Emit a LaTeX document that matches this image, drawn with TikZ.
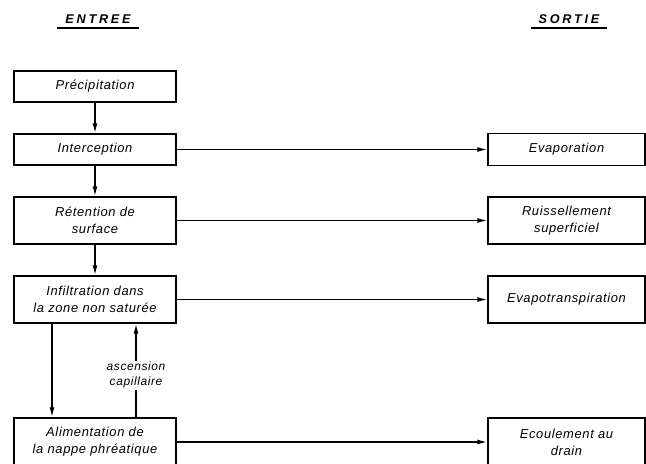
\documentclass[tikz,border=0pt]{standalone}
\usepackage{fontspec}
\setmainfont{Liberation Sans}
\newfontfamily\lettrage[LetterSpace=5]{Liberation Sans}
\newfontfamily\titre[LetterSpace=22]{Liberation Sans}
\usetikzlibrary{arrows.meta}

\begin{document}
\begin{tikzpicture}[
    boite/.style={draw, line width=1.2pt, minimum height=0.775cm, align=center,
      font=\lettrage\itshape\fontsize{9.2}{12}\selectfont},
    gauchebox/.style={boite, minimum width=4.05cm},
    droitebox/.style={boite, minimum width=3.925cm},
    fleche/.style={-{Latex[length=7pt,width=3.6pt]}, line width=1pt},
    entete/.style={font=\titre\bfseries\itshape\fontsize{9}{10}\selectfont,
      inner xsep=5.5pt, inner ysep=3pt}]
    \useasboundingbox (0,0) rectangle (16.15,11.575);

    % 标题
    \node[entete] (entree) at (2.45,11.1) {ENTREE};
    \draw[line width=1.1pt] (entree.south west) -- (entree.south east);
    \node[entete] (sortie) at (14.225,11.1) {SORTIE};
    \draw[line width=1.1pt] (sortie.south west) -- (sortie.south east);

    % 入口
    \node[gauchebox] (precip) at (2.375,9.4125) {Précipitation};
    \node[gauchebox] (interc) at (2.375,7.8375) {Interception};
    \node[gauchebox, minimum height=1.175cm] (retent) at (2.375,6.0625) {Rétention de\\surface};
    \node[gauchebox, minimum height=1.175cm] (infil) at (2.375,4.0875) {Infiltration dans\\la zone non saturée};
    \node[gauchebox, minimum height=1.2cm] (alim) at (2.375,0.525) {Alimentation de\\la nappe phréatique};

    % 出口
    \node[droitebox, minimum height=0.8cm] (evap) at (14.1625,7.8375) {Evaporation};
    \node[droitebox, minimum height=1.175cm] (ruiss) at (14.1625,6.0625) {Ruissellement\\superficiel};
    \node[droitebox, minimum height=1.175cm] (evapot) at (14.1625,4.0875) {Evapotranspiration};
    \node[droitebox, minimum height=1.2cm] (ecoul) at (14.1625,0.525) {Ecoulement au\\drain};

    % 箭头
    \draw[fleche] (precip) -- (interc);
    \draw[fleche] (interc) -- (retent);
    \draw[fleche] (retent) -- (infil);
    \coordinate (descente) at (1.3,0);
    \coordinate (montee) at (3.4,0);
    \draw[fleche] (infil.south -| descente) -- (alim.north -| descente);
    \draw[fleche] (alim.north -| montee) -- node[pos=0.45, fill=white, inner sep=1pt, align=center,
      font=\lettrage\itshape\fontsize{8.5}{10.7}\selectfont] (ascension) {ascension\\capillaire} (infil.south -| montee);

    \draw[fleche] (interc) -- (evap);
    \draw[fleche] (retent) -- (ruiss);
    \draw[fleche] (infil) -- (evapot);
    \draw[fleche] (alim) -- (ecoul);
  \end{tikzpicture}
\end{document}
